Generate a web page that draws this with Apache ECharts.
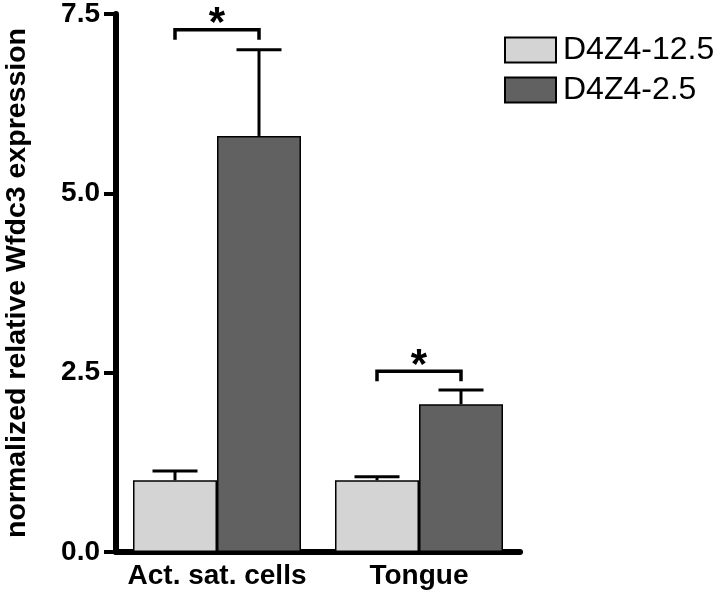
<!DOCTYPE html>
<html>
<head>
<meta charset="utf-8">
<script src="https://cdn.jsdelivr.net/npm/echarts@6/dist/echarts.min.js"></script>
<style>
  html, body { margin: 0; padding: 0; background: #fff; }
  #myChart { width: 723px; height: 602px; }
</style>
</head>
<body>
<div id="myChart"></div>
<script>
  // data
  var categories = ['Act. sat. cells', 'Tongue']
  var groupNames = ['D4Z4-12.5', 'D4Z4-2.5']
  var meanLight = [1.0, 1.0]
  var semLight = [0.13, 0.05]
  var meanDark = [5.8, 2.06]
  var semDark = [1.2, 0.2]
  var yTicks = [0, 2.5, 5, 7.5]
  // significance brackets: category index, bracket height, label
  var sigCats = [0, 1]
  var sigHeights = [7.28, 2.52]
  var sigLabels = ['*', '*']

  var font = '"Liberation Sans", Arial, Helvetica, sans-serif'
  var barWidth = 84
  var colors = ['#d4d4d4', '#616161']

  function errData(mean, sem) {
    return mean.map(function(m, i) { return [i, m, m + sem[i]] })
  }

  // error bar (up only) drawn at bar centre, offset left/right of category centre
  function errRender(offset) {
    return function(params, api) {
      var top = api.coord([api.value(0), api.value(2)])
      var base = api.coord([api.value(0), api.value(1)])
      var x = top[0] + offset
      var style = { stroke: '#000', lineWidth: 3 }
      return {
        type: 'group',
        children: [
          { type: 'line', shape: { x1: x, y1: base[1], x2: x, y2: top[1] }, style: style },
          { type: 'line', shape: { x1: x - 22.5, y1: top[1], x2: x + 22.5, y2: top[1] }, style: style }
        ]
      }
    }
  }

  var sigData = sigCats.map(function(c, i) { return [c, sigHeights[i], sigLabels[i]] })

  var myChart = echarts.init(document.getElementById('myChart'))
  myChart.setOption({
    animation: false,
    textStyle: { fontFamily: font },
    grid: { left: 116, right: 203, top: 14, bottom: 50, outerBoundsMode: 'none' },
    legend: {
      data: groupNames,
      orient: 'vertical',
      left: 504,
      top: 34,
      padding: 0,
      icon: 'rect',
      itemWidth: 51,
      itemHeight: 25,
      itemGap: 8,
      textStyle: { fontFamily: font, fontSize: 32, color: '#000', padding: [0, 0, 0, 2] }
    },
    xAxis: {
      type: 'category',
      data: categories,
      axisTick: { show: false },
      axisLine: { lineStyle: { color: '#000', width: 6 } },
      axisLabel: { color: '#000', fontWeight: 'bold', fontSize: 28, margin: 10, interval: 0, fontFamily: font }
    },
    yAxis: {
      type: 'value',
      min: yTicks[0],
      max: yTicks[yTicks.length - 1],
      interval: yTicks[1] - yTicks[0],
      name: 'normalized relative Wfdc3 expression',
      nameLocation: 'middle',
      nameGap: 84,
      nameTextStyle: { color: '#000', fontWeight: 'bold', fontSize: 28.5, fontFamily: font },
      splitLine: { show: false },
      axisLine: { show: true, lineStyle: { color: '#000', width: 6 } },
      axisTick: { show: true, length: 12, lineStyle: { color: '#000', width: 4 } },
      axisLabel: {
        color: '#000', fontWeight: 'bold', fontSize: 28, margin: 16, fontFamily: font,
        formatter: function(v) { return v.toFixed(1) }
      }
    },
    series: [
      {
        name: groupNames[0],
        type: 'bar',
        barWidth: barWidth,
        barGap: '0%',
        itemStyle: { color: colors[0], borderColor: '#000', borderWidth: 1.5 },
        data: meanLight
      },
      {
        name: groupNames[1],
        type: 'bar',
        barWidth: barWidth,
        barGap: '0%',
        itemStyle: { color: colors[1], borderColor: '#000', borderWidth: 1.5 },
        data: meanDark
      },
      {
        type: 'custom',
        renderItem: errRender(-barWidth / 2),
        encode: { x: 0, y: [1, 2] },
        data: errData(meanLight, semLight),
        z: 3
      },
      {
        type: 'custom',
        renderItem: errRender(barWidth / 2),
        encode: { x: 0, y: [1, 2] },
        data: errData(meanDark, semDark),
        z: 3
      },
      {
        type: 'custom',
        encode: { x: 0, y: 1 },
        renderItem: function(params, api) {
          var p = api.coord([api.value(0), api.value(1)])
          var x1 = p[0] - barWidth / 2
          var x2 = p[0] + barWidth / 2
          var y = p[1]
          var style = { stroke: '#000', lineWidth: 3.5, fill: null }
          return {
            type: 'group',
            children: [
              { type: 'polyline', shape: { points: [[x1, y + 10], [x1, y], [x2, y], [x2, y + 10]] }, style: style },
              {
                type: 'text',
                style: {
                  text: api.value(2), x: p[0], y: y + 16,
                  align: 'center', verticalAlign: 'bottom',
                  fontSize: 42, fontWeight: 'bold', fontFamily: font, fill: '#000'
                }
              }
            ]
          }
        },
        data: sigData,
        z: 3
      }
    ]
  })
</script>
</body>
</html>
